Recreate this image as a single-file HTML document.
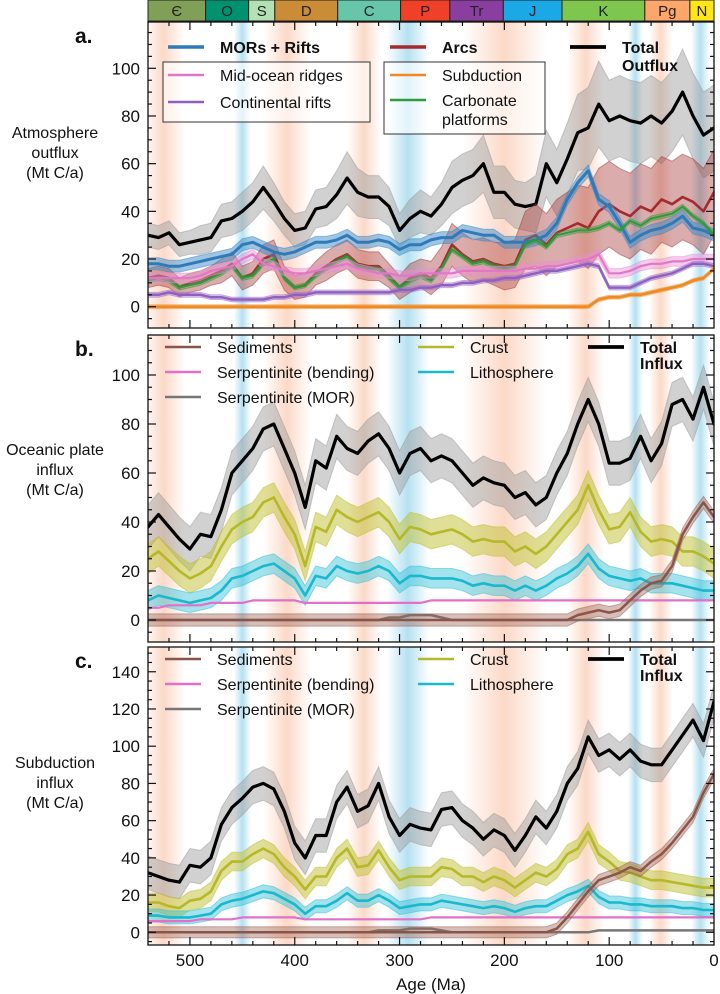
<!DOCTYPE html>
<html><head><meta charset="utf-8">
<style>
html,body{margin:0;padding:0;background:#fff;}
svg{display:block;font-family:"Liberation Sans",Arial,sans-serif;}
</style></head>
<body>
<svg id="chart" width="720" height="994" viewBox="0 0 720 994" xmlns="http://www.w3.org/2000/svg">
<defs id="defs"></defs>
<g id="bg"></g>
<g id="timescale"></g>
<g id="series"></g>
<g id="axes"></g>
<g id="legends"></g>
</svg>
<script>
// ---------- data ----------
const ages = [540,530,520,510,500,490,480,470,460,450,440,430,420,410,400,390,380,370,360,350,340,330,320,310,300,290,280,270,260,250,240,230,220,210,200,190,180,170,160,150,140,130,120,110,100,90,80,70,60,50,40,30,20,10,0];
const periods = ['Є','O','S','D','C','P','Tr','J','K','Pg','N'];
const periodStart = [541,485,444,419,359,299,252,201,145,66,23];
const periodEnd = [485,444,419,359,299,252,201,145,66,23,0];
const periodColor = ['#7fa056','#009270','#b3e1b6','#cb8c37','#67c5a9','#f04028','#8a3fa0','#1aa8e6','#7fc64e','#fda66a','#ffe619'];
const salmonBands = [[545,505],[430,385],[350,318],[240,160],[140,105],[62,40]];
const blueBands = [[458,442],[312,272],[82,68],[22,4]];

// panel a
const aTotal = [30,29,31,26,27,28,29,36,37,40,44,50,44,37,32,33,41,42,47,54,48,46,46,42,32,37,40,38,43,50,53,55,60,48,48,43,42,43,60,52,62,73,75,85,78,80,78,77,80,77,82,90,80,72,75];
const aTotalErr = [5,5,5,5,5,6,6,7,7,8,8,9,8,7,7,7,8,8,10,11,10,9,9,8,7,8,9,8,9,11,11,11,12,11,11,10,10,12,14,14,15,16,17,18,17,17,17,17,17,17,17,18,18,18,18];
const aMor = [18,18,17,17,18,19,20,21,22,26,27,25,23,22,23,25,27,27,28,30,27,27,28,27,24,26,26,28,29,29,32,31,30,30,27,27,27,28,30,35,45,52,57,45,42,35,27,30,32,33,35,38,33,32,30];
const aArcs = [12,13,12,8,10,11,13,15,18,12,14,20,22,12,8,9,14,17,20,22,18,17,17,13,8,12,14,12,17,26,22,19,20,18,17,18,28,30,26,31,33,35,33,40,43,40,38,42,40,45,43,46,44,40,48];
const aArcsErr = [4,4,4,4,4,4,4,5,5,5,5,6,6,5,5,5,5,6,6,6,6,6,6,5,5,6,6,7,8,9,9,9,9,9,10,10,12,13,13,14,15,16,17,18,18,18,18,18,18,18,18,18,18,18,18];
const aCarb = [11,12,11,8,9,10,12,14,17,12,13,18,20,12,8,9,13,16,19,21,17,16,16,12,8,11,13,11,16,24,21,18,19,17,16,17,26,28,25,30,31,32,32,33,35,32,36,34,37,38,39,42,38,35,30];
const aMidOcean = [12,12,12,12,12,13,15,16,17,20,22,18,17,15,14,14,15,16,17,18,16,15,14,14,13,13,14,14,14,14,15,15,15,15,15,15,16,16,17,17,18,19,20,22,14,14,15,17,18,18,19,19,20,20,20];
const aRifts = [5,5,6,5,5,5,4,4,3,3,3,3,4,4,5,5,6,6,6,6,6,6,6,6,7,7,8,8,9,9,10,10,11,11,12,12,13,14,15,15,16,17,18,17,8,8,8,10,12,13,14,16,18,18,17];
const aSubduction = [0,0,0,0,0,0,0,0,0,0,0,0,0,0,0,0,0,0,0,0,0,0,0,0,0,0,0,0,0,0,0,0,0,0,0,0,0,0,0,0,0,0,0,3,4,4,5,5,6,7,8,9,11,12,16];

// panel b
const bTotal = [38,43,38,33,29,35,34,45,60,65,70,78,80,70,60,46,65,62,75,70,68,73,76,70,60,68,70,65,67,65,60,55,58,56,55,50,52,47,50,60,68,80,90,80,64,64,66,75,65,72,88,90,82,95,80];
const bCrust = [25,28,24,20,17,19,22,30,37,40,42,48,50,42,35,22,38,36,45,42,40,42,44,40,33,38,37,35,36,37,35,32,33,32,32,28,30,27,30,35,40,45,55,45,37,38,44,36,32,33,32,28,28,26,23];
const bLitho = [8,10,9,8,7,8,9,12,17,18,20,22,23,20,17,10,18,17,22,20,19,20,22,20,15,18,18,17,17,17,16,14,15,14,14,12,14,12,14,17,19,22,27,21,18,17,16,17,15,15,15,14,13,12,12];
const bSerpBend = [5,5,6,6,6,6,7,7,7,7,8,8,8,8,8,7,7,7,7,7,7,7,7,7,7,7,7,8,8,8,8,8,8,8,8,8,8,8,8,8,8,8,8,8,8,8,8,8,8,8,8,8,8,8,8];
const bSerpMor = [0,0,0,0,0,0,0,0,0,0,0,0,0,0,0,0,0,0,0,0,0,0,0,1,1,2,2,2,1,0,0,0,0,0,0,0,0,0,0,0,0,0,0,0,0,0,0,0,0,0,0,0,0,0,0];
const bSed = [0,0,0,0,0,0,0,0,0,0,0,0,0,0,0,0,0,0,0,0,0,0,0,0,0,0,0,0,0,0,0,0,0,0,0,0,0,0,0,0,0,2,3,4,3,4,8,12,15,16,22,35,42,48,42];

// panel c
const cTotal = [32,30,28,27,36,35,40,58,67,72,78,80,77,65,48,40,52,52,70,78,65,68,80,62,52,58,56,55,66,67,60,56,50,55,52,44,52,62,56,65,80,88,105,95,98,93,98,92,90,90,98,106,114,103,124];
const cCrust = [16,16,14,13,17,18,22,33,38,38,42,45,42,35,30,23,30,30,40,45,35,36,44,35,28,30,30,30,35,34,30,30,27,30,28,24,28,32,30,34,42,45,54,42,38,33,32,30,28,28,27,26,25,24,24];
const cLitho = [9,9,8,8,8,9,10,15,17,18,20,22,21,18,15,10,14,14,17,21,17,17,20,17,13,14,15,15,17,16,15,14,13,14,13,11,13,14,14,17,20,22,25,19,16,16,15,15,14,14,14,13,13,12,12];
const cSerpBend = [6,6,6,6,6,7,7,7,7,8,8,8,8,8,8,7,7,7,7,7,7,7,7,7,7,7,7,8,8,8,8,8,8,8,8,8,8,8,8,8,8,8,8,8,8,8,8,8,8,8,8,8,8,8,8];
const cSerpMor = [0,0,0,0,0,0,0,0,0,0,0,0,0,0,0,0,0,0,0,0,0,0,1,1,1,2,2,2,1,0,0,0,0,0,0,0,0,0,0,0,0,0,0,1,1,1,1,1,1,1,1,1,1,1,1];
const cSed = [0,0,0,0,0,0,0,0,0,0,0,0,0,0,0,0,0,0,0,0,0,0,0,0,0,0,0,0,0,0,0,0,0,0,0,0,0,0,0,2,8,15,22,28,30,32,35,33,38,42,48,55,62,75,85];

const aTicks = [0,20,40,60,80,100];
const bTicks = [0,20,40,60,80,100];
const cTicks = [0,20,40,60,80,100,120,140];
const xTicks = [500,400,300,200,100,0];

// ---------- helpers ----------
const NS = 'http://www.w3.org/2000/svg';
const X0 = 148, X1 = 714;
function xs(ma){ return X1 - ma*(X1-X0)/540; }
const panels = {
  a:{top:22,bottom:328,y0:306.7,k:2.384,max:116,min:-9},
  b:{top:335,bottom:642,y0:620,k:2.45,max:116,min:-9},
  c:{top:647,bottom:945,y0:932.3,k:1.861,max:153,min:-7}
};
function mk(tag, attrs, parent){
  const e=document.createElementNS(NS,tag);
  for(const k in attrs) e.setAttribute(k,attrs[k]);
  parent.appendChild(e); return e;
}
function ysFor(p){ return v => p.y0 - v*p.k; }
function linePath(vals, ys){
  return vals.map((v,i)=>(i?'L':'M')+xs(ages[i]).toFixed(1)+','+ys(v).toFixed(1)).join('');
}
function bandPath(lo, hi, ys){
  let d = lo.map((v,i)=>(i?'L':'M')+xs(ages[i]).toFixed(1)+','+ys(v).toFixed(1)).join('');
  for(let i=hi.length-1;i>=0;i--) d+='L'+xs(ages[i]).toFixed(1)+','+ys(hi[i]).toFixed(1);
  return d+'Z';
}
const seriesG = document.getElementById('series');
const axesG = document.getElementById('axes');
const bgG = document.getElementById('bg');
const defs = document.getElementById('defs');
const legG = document.getElementById('legends');

// gradients
[['salmon','rgb(247,170,130)',0.45],['blue','rgb(120,200,230)',0.55]].forEach(([id,c,o])=>{
  const g=mk('linearGradient',{id:'g-'+id,x1:'0',x2:'1',y1:'0',y2:'0'},defs);
  mk('stop',{offset:'0','stop-color':c,'stop-opacity':0},g);
  mk('stop',{offset:'0.5','stop-color':c,'stop-opacity':o},g);
  mk('stop',{offset:'1','stop-color':c,'stop-opacity':0},g);
});

// clip paths + backgrounds
Object.keys(panels).forEach(key=>{
  const p=panels[key];
  const cp=mk('clipPath',{id:'clip-'+key},defs);
  mk('rect',{x:X0,y:p.top,width:X1-X0,height:p.bottom-p.top},cp);
  const g=mk('g',{'clip-path':'url(#clip-'+key+')'},bgG);
  salmonBands.forEach(b=>{
    const r=mk('rect',{x:xs(b[0]),y:p.top,width:xs(b[1])-xs(b[0]),height:p.bottom-p.top,fill:'url(#g-salmon)'},g);
    
    
  });
  blueBands.forEach(b=>{
    const r=mk('rect',{x:xs(b[0]),y:p.top,width:xs(b[1])-xs(b[0]),height:p.bottom-p.top,fill:'url(#g-blue)'},g);
    
    
  });
});

// timescale
const tsG=document.getElementById('timescale');
periods.forEach((name,i)=>{
  const x1=Math.max(xs(periodStart[i]),X0), x2=xs(periodEnd[i]);
  const r=mk('rect',{x:x1,y:0,width:x2-x1,height:21,fill:periodColor[i],stroke:'#222','stroke-width':1},tsG);
  
  
  const t=mk('text',{x:(x1+x2)/2,y:16,'text-anchor':'middle','font-size':15,fill:'#222'},tsG);
  t.textContent=name;
  
  
});

function drawSeries(key, vals, color, width, name, lo, hi, bandColor, bandOpacity){
  const p=panels[key], ys=ysFor(p);
  const g=mk('g',{'clip-path':'url(#clip-'+key+')'},seriesG);
  if(lo){
    const b=mk('path',{d:bandPath(lo,hi,ys),fill:bandColor,'fill-opacity':bandOpacity,stroke:bandColor,'stroke-opacity':0.5,'stroke-width':1},g);
    
    
  }
  const l=mk('path',{d:linePath(vals,ys),fill:'none',stroke:color,'stroke-width':width,'stroke-linejoin':'round','stroke-linecap':'round'},g);
  
  
}
const pm=(v,e)=>[v.map((x,i)=>x-(Array.isArray(e)?e[i]:e)), v.map((x,i)=>x+(Array.isArray(e)?e[i]:e))];

// panel a series
let b;
b=pm(aTotal,aTotalErr); drawSeries('a',aTotal,'#000',3.2,'a-total-outflux',b[0],b[1],'#9a9a9a',0.45);
b=pm(aArcs,aArcsErr); drawSeries('a',aArcs,'#a32a2e',2.6,'a-arcs',b[0],b[1],'#a8393a',0.42);
b=pm(aMor,2.5); drawSeries('a',aMor,'#2f7ab8',3,'a-mors-rifts',b[0],b[1],'#3d8cc8',0.5);
b=pm(aCarb,1); drawSeries('a',aCarb,'#2e9a3a',2,'a-carbonate-platforms',b[0],b[1],'#2e9a3a',0.3);
b=pm(aMidOcean,2); drawSeries('a',aMidOcean,'#e277c8',2.2,'a-mid-ocean-ridges',b[0],b[1],'#e890d4',0.45);
b=pm(aRifts,1); drawSeries('a',aRifts,'#9060c0',2.5,'a-continental-rifts',b[0],b[1],'#a070cc',0.4);
b=pm(aSubduction,0.8); drawSeries('a',aSubduction,'#f08a20',2.5,'a-subduction',b[0],b[1],'#f09030',0.5);

// panel b series
b=pm(bTotal,9); drawSeries('b',bTotal,'#000',3.2,'b-total-influx',b[0],b[1],'#9a9a9a',0.45);
b=pm(bCrust,6); drawSeries('b',bCrust,'#b5b828',2.6,'b-crust',b[0],b[1],'#c0c030',0.5);
b=pm(bLitho,4); drawSeries('b',bLitho,'#1ab8cc',2.6,'b-lithosphere',b[0],b[1],'#30c0d8',0.45);
drawSeries('b',bSerpBend,'#e070c8',2.2,'b-serpentinite-bending');
drawSeries('b',bSerpMor,'#777',2.5,'b-serpentinite-mor');
b=pm(bSed,2.5); drawSeries('b',bSed,'#8a5548',2.5,'b-sediments',b[0],b[1],'#9a6050',0.4);

// panel c series
b=pm(cTotal,9); drawSeries('c',cTotal,'#000',3.2,'c-total-influx',b[0],b[1],'#9a9a9a',0.45);
b=pm(cCrust,5); drawSeries('c',cCrust,'#b5b828',2.6,'c-crust',b[0],b[1],'#c0c030',0.5);
b=pm(cLitho,3.5); drawSeries('c',cLitho,'#1ab8cc',2.6,'c-lithosphere',b[0],b[1],'#30c0d8',0.45);
drawSeries('c',cSerpBend,'#e070c8',2.2,'c-serpentinite-bending');
drawSeries('c',cSerpMor,'#777',2.5,'c-serpentinite-mor');
b=pm(cSed,3); drawSeries('c',cSed,'#8a5548',2.5,'c-sediments',b[0],b[1],'#9a6050',0.4);

// axes
const tickSets={a:aTicks,b:bTicks,c:cTicks};
Object.keys(panels).forEach(key=>{
  const p=panels[key], ys=ysFor(p);
  const fr=mk('rect',{x:X0,y:p.top,width:X1-X0,height:p.bottom-p.top,fill:'none',stroke:'#111','stroke-width':1.3},axesG);
  
  
  for(let v=Math.ceil(p.min/5)*5; v<=p.max; v+=5){
    const y=ys(v); if(y<p.top+1||y>p.bottom-1) continue;
    const major = tickSets[key].includes(v);
    const len = major?8:4;
    mk('line',{x1:X0,x2:X0+len,y1:y,y2:y,stroke:'#111','stroke-width':1.2},axesG);
    mk('line',{x1:X1,x2:X1-len,y1:y,y2:y,stroke:'#111','stroke-width':1.2},axesG);
  }
  tickSets[key].forEach(v=>{
    const t=mk('text',{x:140,y:ys(v)+6,'text-anchor':'end','font-size':17,fill:'#111'},axesG);
    t.textContent=v;
    
    
  });
  for(let m=520;m>=20;m-=20){
    const x=xs(m); const major=(m%100===0); const len=major?8:4;
    mk('line',{x1:x,x2:x,y1:p.bottom,y2:p.bottom-len,stroke:'#111','stroke-width':1.2},axesG);
    mk('line',{x1:x,x2:x,y1:p.top,y2:p.top+len,stroke:'#111','stroke-width':1.2},axesG);
  }
});
xTicks.forEach(m=>{
  const t=mk('text',{x:xs(m),y:966,'text-anchor':'middle','font-size':17,fill:'#111'},axesG);
  t.textContent=m;
  
  
});
</script>
<!-- static text -->
<g></g>
<script>
const L=document.getElementById('legends');
function txt(x,y,s,opts){
  const t=document.createElementNS('http://www.w3.org/2000/svg','text');
  t.setAttribute('x',x);t.setAttribute('y',y);
  t.setAttribute('font-size',(opts&&opts.size)||16);
  if(opts&&opts.bold) t.setAttribute('font-weight','bold');
  if(opts&&opts.anchor) t.setAttribute('text-anchor',opts.anchor);
  t.setAttribute('fill','#111');
  t.textContent=s;
  L.appendChild(t);
  return t;
}
function seg(x,y,c,w){
  const l=document.createElementNS('http://www.w3.org/2000/svg','line');
  l.setAttribute('x1',x);l.setAttribute('x2',x+36);l.setAttribute('y1',y);l.setAttribute('y2',y);
  l.setAttribute('stroke',c);l.setAttribute('stroke-width',w);
  L.appendChild(l);
  return l;
}
function rect(x,y,w,h){
  const r=document.createElementNS('http://www.w3.org/2000/svg','rect');
  r.setAttribute('x',x);r.setAttribute('y',y);r.setAttribute('width',w);r.setAttribute('height',h);
  r.setAttribute('fill','#fff');r.setAttribute('fill-opacity','0.6');r.setAttribute('stroke','#333');r.setAttribute('stroke-width',1);
  L.appendChild(r);
  return r;
}
let e;
// axis titles
e=txt(431,990,'Age (Ma)',{size:17,anchor:'middle'});


[['Atmosphere',138],['outflux',158],['(Mt C/a)',178]].forEach(r=>{e=txt(55,r[1],r[0],{size:16,anchor:'middle'});

});
[['Oceanic plate',455],['influx',475],['(Mt C/a)',495]].forEach(r=>{e=txt(55,r[1],r[0],{size:16,anchor:'middle'});

});
[['Subduction',768],['influx',788],['(Mt C/a)',808]].forEach(r=>{e=txt(55,r[1],r[0],{size:16,anchor:'middle'});

});
e=txt(75,43,'a.',{size:21,bold:true});


e=txt(75,356,'b.',{size:21,bold:true});


e=txt(75,668,'c.',{size:21,bold:true});



// legend a
e=rect(163,62,207,60);


e=rect(384,62,161,72);


const la=[[168,47,'#2f7ab8',3.5,'MORs + Rifts',true],[168,75,'#e277c8',2.5,'Mid-ocean ridges',false],[168,102,'#9060c0',2.5,'Continental rifts',false],
[390,47,'#a32a2e',3.5,'Arcs',true],[390,75,'#f08a20',2.5,'Subduction',false],[390,100,'#2e9a3a',2.5,'Carbonate',false],[570,47,'#000',3.8,'Total',true]];
la.forEach(r=>{
  e=seg(r[0],r[1],r[2],r[3]);
  
  
  e=txt(r[0]+52,r[1]+6,r[4],{size:16,bold:r[5]});
  
  
});
e=txt(442,125,'platforms',{size:16});


e=txt(622,71,'Outflux',{size:16,bold:true});



// legend b & c
[[347,'b'],[659,'c']].forEach(([y0,k])=>{
  const rows=[[165,y0,'#8a5548','Sediments',false],[165,y0+25,'#e070c8','Serpentinite (bending)',false],[165,y0+50,'#777','Serpentinite (MOR)',false],
  [418,y0,'#b5b828','Crust',false],[418,y0+25,'#1ab8cc','Lithosphere',false],[588,y0,'#000','Total',true]];
  rows.forEach(r=>{
    e=seg(r[0],r[1],r[2],r[4]?3.8:2.6);
    
    
    e=txt(r[0]+52,r[1]+6,r[3],{size:16,bold:r[4]});
    
    
  });
  e=txt(640,y0+22,'Influx',{size:16,bold:true});
  
  
});
</script>
</body></html>
